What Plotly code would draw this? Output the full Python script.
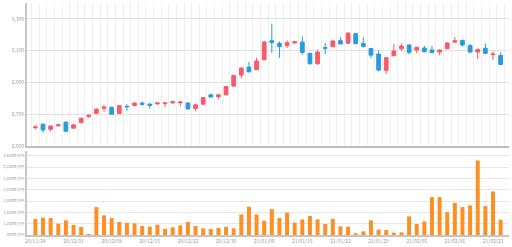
import plotly.graph_objects as go

OPEN = [2615, 2637, 2605, 2627, 2650, 2612, 2647, 2686, 2706, 2737,
        2744, 2704, 2750, 2754, 2770, 2764, 2765, 2767, 2772, 2772,
        2771, 2736, 2763, 2822, 2810, 2822, 2877, 2946, 2997, 2980,
        3043, 3163, 3146, 3131, 3149, 3154, 3083, 3018, 3119, 3125,
        3163, 3146, 3207, 3146, 3114, 3079, 2976, 3068, 3112, 3136,
        3104, 3117, 3104, 3091, 3112, 3154, 3165, 3133, 3091, 3115,
        3075, 3070]
CLOSE = [2620, 2601, 2626, 2633, 2593, 2633, 2675, 2694, 2732, 2746,
         2700, 2754, 2747, 2770, 2762, 2755, 2771, 2771, 2778, 2777,
         2733, 2759, 2805, 2808, 2822, 2874, 2944, 2991, 2967, 3035,
         3155, 3150, 3127, 3150, 3156, 3089, 3018, 3091, 3116, 3161,
         3142, 3211, 3144, 3127, 3072, 2978, 3056, 3098, 3129, 3089,
         3121, 3093, 3087, 3104, 3148, 3163, 3136, 3091, 3108, 3083,
         3079, 3013]
HIGH = [2630, 2643, 2628, 2636, 2654, 2637, 2678, 2697, 2738, 2757,
        2748, 2757, 2763, 2775, 2780, 2767, 2775, 2774, 2786, 2780,
        2775, 2765, 2809, 2830, 2825, 2878, 2948, 2995, 3030, 3056,
        3158, 3270, 3159, 3165, 3162, 3190, 3087, 3106, 3148, 3165,
        3186, 3214, 3212, 3184, 3117, 3102, 3060, 3142, 3146, 3140,
        3125, 3131, 3131, 3108, 3154, 3186, 3169, 3140, 3112, 3146,
        3096, 3089]
LOW = [2605, 2584, 2592, 2624, 2590, 2608, 2644, 2675, 2700, 2715,
       2698, 2702, 2721, 2750, 2754, 2735, 2760, 2744, 2765, 2750,
       2730, 2719, 2760, 2805, 2795, 2818, 2873, 2925, 2963, 2977,
       3040, 3085, 3053, 3117, 3142, 3075, 3011, 3011, 3079, 3122,
       3140, 3143, 3140, 3119, 3053, 2969, 2952, 3066, 3098, 3075,
       3085, 3089, 3085, 3070, 3110, 3148, 3125, 3087, 3047, 3079,
       3041, 3009]
VOLUME = [1365, 1411, 1400, 1200, 1318, 1153, 1082, 835, 1788, 1494,
          1400, 1259, 1236, 1212, 1118, 1094, 1165, 1012, 1071, 1141,
          1259, 1118, 1035, 1012, 1047, 1082, 1035, 1529, 1800, 1529,
          1306, 1718, 1400, 1588, 1235, 1353, 1471, 1353, 1188, 1365,
          1106, 1094, 859, 929, 1318, 988, 977, 882, 894, 1459,
          1188, 1282, 2141, 2141, 1612, 1941, 1788, 1847, 3436, 1824,
          2341, 1341]
TICK_LABELS = ["20/11/24", "20/12/01", "20/12/08", "20/12/15", "20/12/22",
               "20/12/30", "21/01/08", "21/01/15", "21/01/22", "21/01/29",
               "21/02/05", "21/02/16", "21/02/23"]
PRICE_TICKS = [2500, 2700, 2900, 3100, 3300]
VOL_TICKS = [800, 1200, 1600, 2000, 2400, 2800, 3200, 3600]
VOL_UNIT = "百万円"

RED = "#F45B69"
BLUE = "#2B9ADB"
ORANGE = "#FF8F22"
TICK_COLOR = "#9a9a9a"

n = len(OPEN)
xs = list(range(n))
tick_pos = xs[::5][:len(TICK_LABELS)]

fig = go.Figure()
fig.add_trace(go.Candlestick(
    x=xs, open=OPEN, high=HIGH, low=LOW, close=CLOSE,
    increasing=dict(line=dict(color=RED, width=1), fillcolor=RED),
    decreasing=dict(line=dict(color=BLUE, width=1), fillcolor=BLUE),
    whiskerwidth=0, xaxis="x", yaxis="y", showlegend=False,
))
fig.add_trace(go.Bar(
    x=xs, y=VOLUME, marker=dict(color=ORANGE, line=dict(width=0)),
    width=0.52, xaxis="x2", yaxis="y2", showlegend=False,
))

xr = [-1.1, n + 0.1]
font_family = "Noto Sans CJK JP, Noto Sans, sans-serif"
fig.update_layout(
    width=512, height=247, autosize=False,
    margin=dict(l=22.5, r=3, t=3, b=12, pad=0),
    paper_bgcolor="white", plot_bgcolor="white",
    font=dict(family=font_family, size=5, color=TICK_COLOR),
    showlegend=False,
    xaxis=dict(
        domain=[0, 1], anchor="y", range=xr,
        tickvals=[i - 0.5 for i in range(n + 1)],
        showticklabels=False, ticks="",
        showgrid=True, gridcolor="#efefef", gridwidth=1,
        showline=True, linecolor="#bdbdbd", linewidth=1.5,
        zeroline=False, rangeslider=dict(visible=False),
    ),
    xaxis2=dict(
        domain=[0, 1], anchor="y2", range=xr, matches="x",
        tickvals=tick_pos, ticktext=TICK_LABELS, ticks="",
        tickfont=dict(size=5, color=TICK_COLOR),
        showgrid=False, showline=True, linecolor="#c4c4c4", linewidth=1.5,
        zeroline=False,
    ),
    yaxis=dict(
        domain=[0.3836, 1], anchor="x", range=[2500, 3400],
        tickvals=PRICE_TICKS, tickformat=",d", ticks="",
        tickfont=dict(size=5, color=TICK_COLOR),
        showgrid=True, gridcolor="#e2e2e2", gridwidth=1,
        showline=True, linecolor="#c8c8c8", linewidth=2,
        zeroline=False,
    ),
    yaxis2=dict(
        domain=[0, 0.362], anchor="x2", range=[800, 3770],
        tickvals=VOL_TICKS, ticktext=[f"{v:,}{VOL_UNIT}" for v in VOL_TICKS],
        ticks="", tickfont=dict(size=3.8, color=TICK_COLOR),
        showgrid=True, gridcolor="#e6e6e6", gridwidth=1,
        showline=True, linecolor="#c8c8c8", linewidth=2,
        zeroline=False,
    ),
)

fig.write_html("out.html")
